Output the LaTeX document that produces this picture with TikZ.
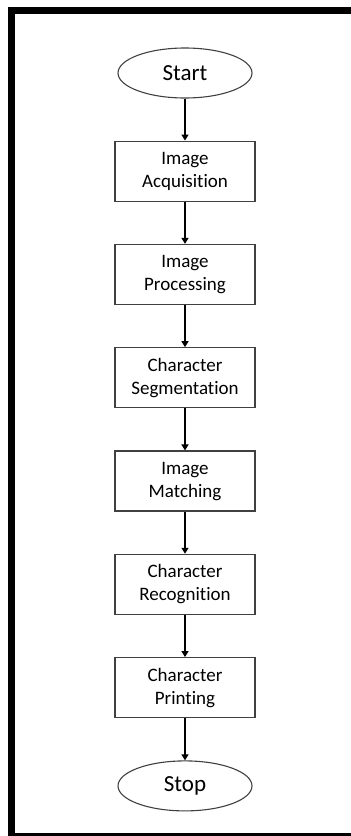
\documentclass[tikz,border=0pt]{standalone}
\usepackage{fontspec}
\setmainfont{Carlito}[Ligatures=NoCommon]
\usetikzlibrary{positioning, shapes.geometric, arrows.meta}

\begin{document}
\begin{tikzpicture}[x=1pt, y=1pt, node distance=42pt,
    >={Triangle[length=6pt, width=7pt]},
    terminal/.style={draw=black!75, line width=1.1pt, ellipse, minimum width=134pt, minimum height=50pt, font=\fontsize{23}{26}\selectfont},
    process/.style={draw=black!75, line width=1.3pt, rectangle, minimum width=140pt, minimum height=60pt, align=center, font=\fontsize{19}{23}\selectfont}]
  \useasboundingbox (0,0) rectangle (351,-836);
  % frame
  \fill (8,-7) rectangle (351,-14);
  \fill (8,-7) rectangle (15,-836);
  \fill (8,-833) rectangle (351,-836);

  \node[terminal] (start) at (185,-73) {Start};
  \node[process, below=of start] (acq)  {Image\\Acquisition};
  \node[process, below=of acq]   (proc) {Image\\Processing};
  \node[process, below=of proc]  (seg)  {Character\\Segmentation};
  \node[process, below=of seg]   (match) {Image\\Matching};
  \node[process, below=of match] (recog) {Character\\Recognition};
  \node[process, below=of recog] (print) {Character\\Printing};
  \node[terminal, below=of print] (stop) {Stop};

  \draw[->, line width=1.4pt] (start) -- (acq);
  \draw[->, line width=1.4pt] (acq) -- (proc);
  \draw[->, line width=1.4pt] (proc) -- (seg);
  \draw[->, line width=1.4pt] (seg) -- (match);
  \draw[->, line width=1.4pt] (match) -- (recog);
  \draw[->, line width=1.4pt] (recog) -- (print);
  \draw[->, line width=1.4pt] (print) -- (stop);
\end{tikzpicture}
\end{document}
